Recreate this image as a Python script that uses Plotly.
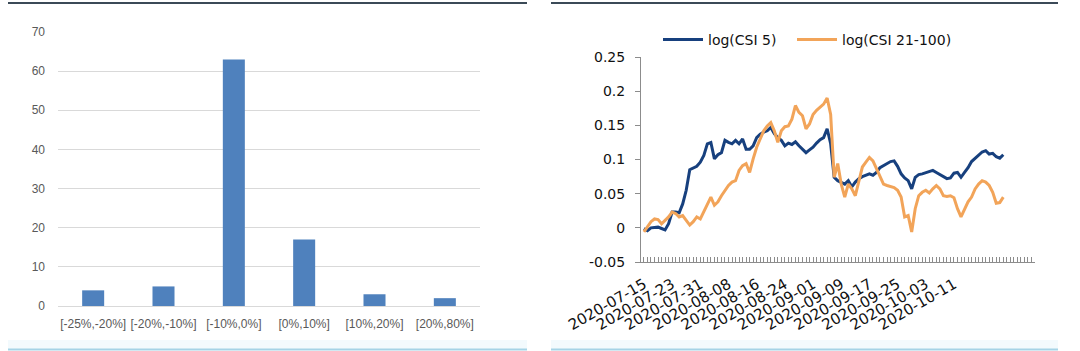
import plotly.graph_objects as go
import pandas as pd

# ---------------- Left chart data ----------------
bins = ["[-25%,-20%]", "[-20%,-10%]", "[-10%,0%]", "[0%,10%]", "[10%,20%]", "[20%,80%]"]
counts = [4, 5, 63, 17, 3, 2]

# ---------------- Right chart data ----------------
start_date = "2020-07-15"
csi5 = [-0.001, -0.004, 0.000, 0.001, 0.001, -0.001, -0.003, 0.006, 0.023, 0.023,
        0.022, 0.035, 0.055, 0.085, 0.088, 0.090, 0.096, 0.106, 0.123, 0.125,
        0.101, 0.107, 0.110, 0.128, 0.125, 0.123, 0.128, 0.123, 0.130, 0.115,
        0.115, 0.120, 0.132, 0.137, 0.140, 0.142, 0.147, 0.138, 0.132, 0.128,
        0.120, 0.124, 0.122, 0.126, 0.120, 0.115, 0.110, 0.114, 0.118, 0.124,
        0.129, 0.132, 0.145, 0.123, 0.074, 0.069, 0.067, 0.064, 0.069, 0.060,
        0.067, 0.072, 0.075, 0.077, 0.079, 0.077, 0.081, 0.088, 0.091, 0.095,
        0.097, 0.098, 0.090, 0.079, 0.073, 0.069, 0.057, 0.074, 0.078, 0.079,
        0.081, 0.082, 0.084, 0.081, 0.078, 0.074, 0.072, 0.073, 0.080, 0.081,
        0.074, 0.081, 0.088, 0.097, 0.102, 0.107, 0.111, 0.113, 0.108, 0.109,
        0.104, 0.102, 0.107]
csi21_100 = [-0.006, 0.001, 0.009, 0.013, 0.012, 0.006, 0.011, 0.016, 0.023, 0.021,
             0.016, 0.018, 0.011, 0.004, 0.009, 0.016, 0.013, 0.023, 0.033, 0.045,
             0.033, 0.038, 0.047, 0.055, 0.062, 0.067, 0.069, 0.084, 0.091, 0.094,
             0.081, 0.101, 0.118, 0.130, 0.142, 0.149, 0.154, 0.142, 0.125, 0.142,
             0.148, 0.149, 0.159, 0.179, 0.169, 0.164, 0.145, 0.152, 0.166, 0.172,
             0.177, 0.181, 0.190, 0.166, 0.074, 0.094, 0.064, 0.045, 0.064, 0.057,
             0.047, 0.067, 0.089, 0.096, 0.103, 0.098, 0.086, 0.074, 0.064, 0.062,
             0.060, 0.059, 0.055, 0.045, 0.016, 0.018, -0.006, 0.028, 0.047, 0.052,
             0.055, 0.051, 0.057, 0.062, 0.057, 0.047, 0.046, 0.047, 0.044, 0.028,
             0.016, 0.028, 0.038, 0.045, 0.057, 0.064, 0.069, 0.067, 0.062, 0.052,
             0.036, 0.037, 0.045]
date_ticks = ["2020-07-15", "2020-07-23", "2020-07-31", "2020-08-08", "2020-08-16",
              "2020-08-24", "2020-09-01", "2020-09-09", "2020-09-17", "2020-09-25",
              "2020-10-03", "2020-10-11"]
y_ticks = [-0.05, 0, 0.05, 0.1, 0.15, 0.2, 0.25]
y_tick_text = ["-0.05", "0", "0.05", "0.1", "0.15", "0.2", "0.25"]

dates = pd.date_range(start_date, periods=len(csi5), freq="D")

W, H = 1080, 351
def px(x):
    return x / W
def py(y):
    return 1 - y / H

fig = go.Figure()

fig.add_trace(go.Bar(x=bins, y=counts, marker=dict(color="#4f81bd", line=dict(width=0)),
                     xaxis="x", yaxis="y", showlegend=False, hoverinfo="x+y"))

fig.add_trace(go.Scatter(x=dates, y=csi5, mode="lines", name="log(CSI 5)",
                         line=dict(color="#17407e", width=3),
                         xaxis="x2", yaxis="y2", legend="legend"))
fig.add_trace(go.Scatter(x=dates, y=csi21_100, mode="lines", name="log(CSI 21-100)",
                         line=dict(color="#f2a459", width=3),
                         xaxis="x2", yaxis="y2", legend="legend2"))

left_font = dict(family="Liberation Sans, Arial, sans-serif", size=12, color="#595959")
ytick_font = dict(family="DejaVu Sans, Verdana, sans-serif", size=14, color="#111111")
date_font = dict(family="DejaVu Sans, Verdana, sans-serif", size=15, color="#111111")
legend_font = dict(family="DejaVu Sans, Verdana, sans-serif", size=14, color="#111111")

fig.update_layout(
    width=W, height=H,
    autosize=False,
    margin=dict(l=0, r=0, t=0, b=0, pad=0, autoexpand=False),
    paper_bgcolor="white", plot_bgcolor="white",
    bargap=0.687,
    xaxis=dict(domain=[px(58), px(480)], anchor="y", showgrid=False, showline=False,
               ticks="", tickfont=left_font, fixedrange=True, tickangle=0,
               automargin=False, ticklabelstandoff=9),
    yaxis=dict(domain=[py(306), py(32)], anchor="x", range=[0, 70], dtick=10,
               showgrid=True, gridcolor="#d9d9d9", gridwidth=1, zeroline=True,
               zerolinecolor="#d9d9d9", zerolinewidth=1, showline=False, ticks="",
               tickfont=left_font, ticklabelstandoff=12, automargin=False),
    xaxis2=dict(domain=[px(641), px(1035)], anchor="y2", type="date",
                range=["2020-07-14 04:00", "2020-11-03 00:00"],
                tickmode="array", tickvals=date_ticks, ticktext=date_ticks,
                tickangle=-30, tickfont=date_font, showgrid=False,
                showline=True, linecolor="#8c8c8c", linewidth=1,
                ticks="inside", ticklen=5, tickcolor="#8c8c8c", automargin=False,
                ticklabelstandoff=7,
                minor=dict(dtick=86400000, ticks="inside", ticklen=5,
                           tickcolor="#8c8c8c", showgrid=False)),
    yaxis2=dict(domain=[py(262), py(57)], anchor="x2", range=[-0.05, 0.25],
                tickmode="array", tickvals=y_ticks, ticktext=y_tick_text,
                showgrid=False, zeroline=False, showline=True, linecolor="#8c8c8c",
                linewidth=1, ticks="outside", ticklen=5, tickcolor="#8c8c8c",
                tickfont=ytick_font, ticklabelstandoff=7, automargin=False),
    legend=dict(orientation="h", x=px(658), xanchor="left", y=py(40), yanchor="middle",
                font=legend_font, bgcolor="rgba(0,0,0,0)", itemwidth=40),
    legend2=dict(orientation="h", x=px(792), xanchor="left", y=py(40), yanchor="middle",
                 font=legend_font, bgcolor="rgba(0,0,0,0)", itemwidth=40),
)

shapes = []
for x0, x1 in [(8, 527), (551, 1058)]:
    # top dark rules
    shapes.append(dict(type="line", xref="paper", yref="paper", x0=px(x0), x1=px(x1),
                       y0=py(3), y1=py(3), line=dict(color="#3b4a57", width=2)))
    # faint tint band above bottom rule
    shapes.append(dict(type="rect", xref="paper", yref="paper", x0=px(x0), x1=px(x1),
                       y0=py(349), y1=py(340), fillcolor="rgba(215,240,248,0.3)",
                       line=dict(width=0), layer="below"))
    # bottom light-blue rules
    shapes.append(dict(type="line", xref="paper", yref="paper", x0=px(x0), x1=px(x1),
                       y0=py(349.5), y1=py(349.5), line=dict(color="#a6d3e6", width=2)))
fig.update_layout(shapes=shapes)

fig.write_html("out.html")
